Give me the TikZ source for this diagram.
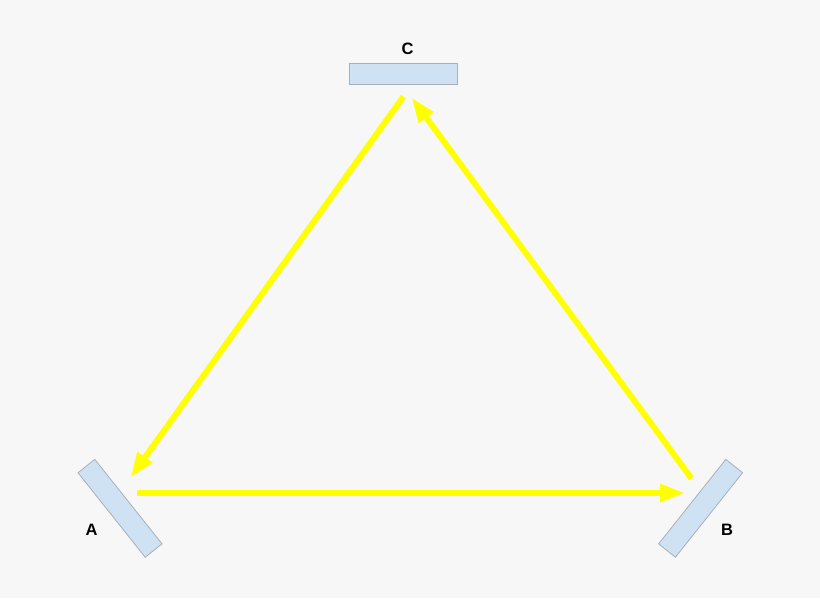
\documentclass[tikz,border=0pt]{standalone}
\usepackage{fontspec}
\setmainfont{Liberation Sans}
\usetikzlibrary{arrows.meta}
\definecolor{bg}{HTML}{F7F7F7}
\definecolor{mirrorfill}{HTML}{CFE2F3}
\definecolor{mirrordraw}{HTML}{A7B0B8}
\definecolor{beamcol}{HTML}{FFFF00}
\begin{document}
\begin{tikzpicture}[x=1pt,y=-1pt,
  mirror/.style={draw=mirrordraw,fill=mirrorfill,line width=0.8pt,minimum width=108pt,minimum height=21.5pt,inner sep=0pt,outer sep=0pt},
  lbl/.style={font=\bfseries\fontsize{16.5}{18}\selectfont,inner sep=0pt},
  beam/.style={draw=beamcol,line width=6pt,-{Triangle[length=25pt,width=17pt]}}]
\fill[bg] (0,0) rectangle (820,598);
\useasboundingbox (0,0) rectangle (820,598);
\node[mirror,rotate=-51.5] (mA) at (120,508.3) {};
\node[mirror,rotate=51.5] (mB) at (700.6,508.3) {};
\node[mirror] (mC) at (403.5,74) {};
\node[lbl] (lA) at (91.5,529.5) {A};
\node[lbl] (lB) at (727,530) {B};
\node[lbl] (lC) at (407.5,49) {C};
\coordinate (aOut) at (137,493);
\coordinate (bIn) at (685,493);
\coordinate (bOut) at (691.5,478.5);
\coordinate (cIn) at (411.5,97.5);
\coordinate (cOut) at (403.5,96.5);
\coordinate (aIn) at (130.5,477.5);
\draw[beam] (aOut) -- (bIn);
\draw[beam] (bOut) -- (cIn);
\draw[beam] (cOut) -- (aIn);
\end{tikzpicture}
\end{document}
